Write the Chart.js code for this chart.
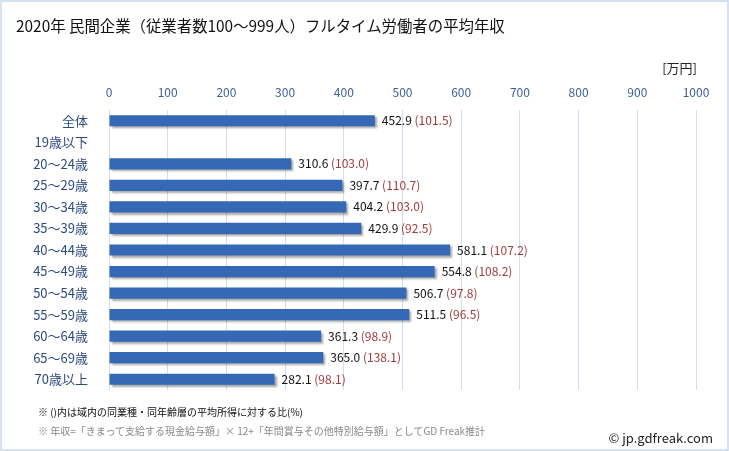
<!DOCTYPE html>
<html>
<head>
<meta charset="utf-8">
<script src="https://cdn.jsdelivr.net/npm/chart.js@4/dist/chart.umd.min.js"></script>
<style>
  html, body { margin: 0; padding: 0; background: #fff; }
  #wrap {
    position: relative; width: 729px; height: 451px; box-sizing: border-box;
    border: 2px solid #d6e2ef; font-family: "Noto Sans CJK JP", sans-serif;
  }
  #chart { position: absolute; left: 0; top: 0; }
  .txt { position: absolute; white-space: nowrap; }
  #title { left: 14px; top: 12px; font-size: 15.4px; color: #111; }
  #unit { right: 30px; top: 56px; font-size: 13px; color: #222; }
  #note1 { left: 36px; top: 402px; font-size: 10px; color: #111; }
  #note2 { left: 36px; top: 421px; font-size: 10px; color: #888; }
  #copy { right: 14px; top: 426px; font-size: 13px; color: #222; }
</style>
</head>
<body>
<div id="wrap">
  <canvas id="chart" width="725" height="447"></canvas>
  <div class="txt" id="title">2020年 民間企業（従業者数100～999人）フルタイム労働者の平均年収</div>
  <div class="txt" id="unit">[万円]</div>
  <div class="txt" id="note1">※ ()内は域内の同業種・同年齢層の平均所得に対する比(%)</div>
  <div class="txt" id="note2">※ 年収=「きまって支給する現金給与額」× 12+「年間賞与その他特別給与額」としてGD Freak推計</div>
  <div class="txt" id="copy">© jp.gdfreak.com</div>
</div>
<script>
// categories and values
const labels = ["全体", "19歳以下", "20～24歳", "25～29歳", "30～34歳", "35～39歳", "40～44歳",
  "45～49歳", "50～54歳", "55～59歳", "60～64歳", "65～69歳", "70歳以上"];
const income = [452.9, 0, 310.6, 397.7, 404.2, 429.9, 581.1, 554.8, 506.7, 511.5, 361.3, 365.0, 282.1];
const ratio = [101.5, null, 103.0, 110.7, 103.0, 92.5, 107.2, 108.2, 97.8, 96.5, 98.9, 138.1, 98.1];
const xTicks = [0, 100, 200, 300, 400, 500, 600, 700, 800, 900, 1000];

const FONT = "'Noto Sans CJK JP', sans-serif";

// shadow under bars
const barShadow = {
  id: "barShadow",
  beforeDatasetsDraw(chart) {
    const ctx = chart.ctx;
    ctx.save();
    ctx.shadowColor = "rgba(0,0,0,0.35)";
    ctx.shadowOffsetX = 2;
    ctx.shadowOffsetY = 2;
    ctx.shadowBlur = 2;
  },
  afterDatasetsDraw(chart) {
    chart.ctx.restore();
  }
};

// value + ratio labels right of bars
const valueLabels = {
  id: "valueLabels",
  afterDatasetsDraw(chart) {
    const ctx = chart.ctx;
    const meta = chart.getDatasetMeta(0);
    ctx.save();
    ctx.font = "12px " + FONT;
    ctx.textBaseline = "middle";
    meta.data.forEach((bar, i) => {
      if (ratio[i] === null) return;
      const v = income[i].toFixed(1);
      const r = " (" + ratio[i].toFixed(1) + ")";
      let x = bar.x + 7;
      ctx.fillStyle = "#111";
      ctx.fillText(v, x, bar.y);
      x += ctx.measureText(v).width;
      ctx.fillStyle = "#a23b3b";
      ctx.fillText(r, x, bar.y);
    });
    ctx.restore();
  }
};

new Chart(document.getElementById("chart"), {
  type: "bar",
  data: {
    labels: labels,
    datasets: [{
      data: income,
      backgroundColor(c) {
        const bar = c.element;
        if (!bar || bar.y === undefined) return "#3569b5";
        const g = c.chart.ctx.createLinearGradient(0, bar.y - 6, 0, bar.y + 6);
        g.addColorStop(0, "#4a84d0");
        g.addColorStop(1, "#2b5ca4");
        return g;
      },
      borderWidth: 0,
      categoryPercentage: 1,
      barPercentage: 0.52
    }]
  },
  options: {
    indexAxis: "y",
    responsive: false,
    animation: false,
    layout: { padding: { left: 0, top: 78, right: 31, bottom: 59 } },
    plugins: { legend: { display: false }, tooltip: { enabled: false } },
    scales: {
      x: {
        position: "top",
        min: 0,
        max: 1000,
        afterBuildTicks(scale) { scale.ticks = xTicks.map(v => ({ value: v })); },
        afterFit(scale) { scale.height = 30; },
        grid: { color: "#cfdff0", drawTicks: false },
        border: { display: false },
        ticks: {
          color: "#3d5e9c", font: { size: 12, family: FONT }, padding: 10,
          callback: v => String(v)
        }
      },
      y: {
        afterFit(scale) { scale.width = 107; },
        grid: { display: false },
        border: { display: false },
        ticks: { color: "#2c4a80", font: { size: 13, family: FONT }, padding: 13 }
      }
    }
  },
  plugins: [barShadow, valueLabels]
});
</script>
</body>
</html>
